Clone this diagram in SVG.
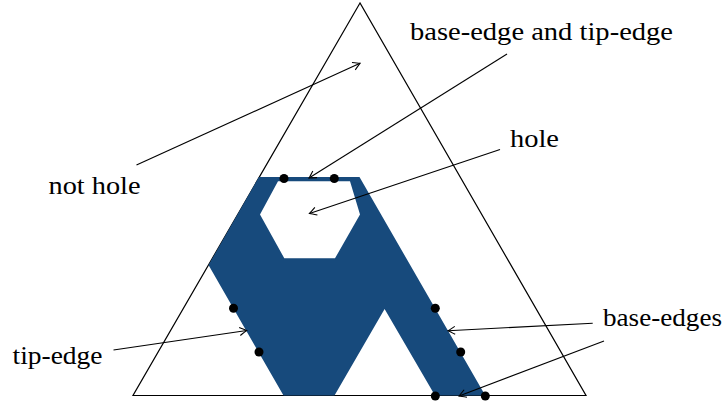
<svg xmlns="http://www.w3.org/2000/svg" width="724" height="403" viewBox="0 0 724 403">
<style>
.lbl{font-size:26px;fill:#000}
.ptr{fill:none;stroke:#000;stroke-width:1.1;marker-end:url(#arr)}
.dot{fill:#000}
</style>
<defs>
<marker id="arr" viewBox="-8 -5 10 10" refX="0" refY="0" markerWidth="10" markerHeight="10" markerUnits="userSpaceOnUse" orient="auto">
<path d="M-7,-4 Q-2,-1 0,0 Q-2,1 -7,4" fill="none" stroke="#000" stroke-width="1.1"/>
</marker>
</defs>
<rect width="724" height="403" fill="#fff"/>
<g id="triangle">
<polygon points="360,3 133,395.5 586,395.5" fill="none" stroke="#000" stroke-width="1.2"/>
</g>
<g id="region">
<path d="M258.8,177 L208.5,265 L283.5,395.5 L334.5,395.5 L384.6,309 L435,395.5 L485.3,395.5 L359.5,177 Z M278,181.3 L260,214.5 L284.3,258.3 L335,258.3 L360,214.5 L350,181.3 Z" fill="#174a7c" fill-rule="evenodd"/>
</g>
<g id="points">
<circle class="dot" cx="284" cy="178.5" r="4.5"/>
<circle class="dot" cx="334.3" cy="178.5" r="4.5"/>
<circle class="dot" cx="233.5" cy="308.3" r="4.5"/>
<circle class="dot" cx="259" cy="352" r="4.5"/>
<circle class="dot" cx="435.3" cy="308.3" r="4.5"/>
<circle class="dot" cx="460.7" cy="352" r="4.5"/>
<circle class="dot" cx="435.3" cy="396" r="4.5"/>
<circle class="dot" cx="485.3" cy="396" r="4.5"/>
</g>
<g id="connectors">
<line class="ptr" x1="136.5" y1="165" x2="360" y2="63.3"/>
<line class="ptr" x1="507" y1="54" x2="309" y2="178"/>
<line class="ptr" x1="500" y1="149.5" x2="309.5" y2="213.5"/>
<line class="ptr" x1="113.5" y1="350" x2="246.7" y2="330.5"/>
<line class="ptr" x1="592.7" y1="323.3" x2="448" y2="330.7"/>
<line class="ptr" x1="604" y1="341" x2="459" y2="396"/>
</g>
<g id="labels" font-family="'Liberation Serif', 'DejaVu Serif', 'Times New Roman', serif">
<text class="lbl" x="410" y="39.5" textLength="263" lengthAdjust="spacingAndGlyphs">base-edge and tip-edge</text>
<text class="lbl" x="48.5" y="194" textLength="92" lengthAdjust="spacingAndGlyphs">not hole</text>
<text class="lbl" x="510" y="147" textLength="49" lengthAdjust="spacingAndGlyphs">hole</text>
<text class="lbl" x="603" y="326" textLength="119" lengthAdjust="spacingAndGlyphs">base-edges</text>
<text class="lbl" x="12.5" y="363.5" textLength="90" lengthAdjust="spacingAndGlyphs">tip-edge</text>
</g>
</svg>
